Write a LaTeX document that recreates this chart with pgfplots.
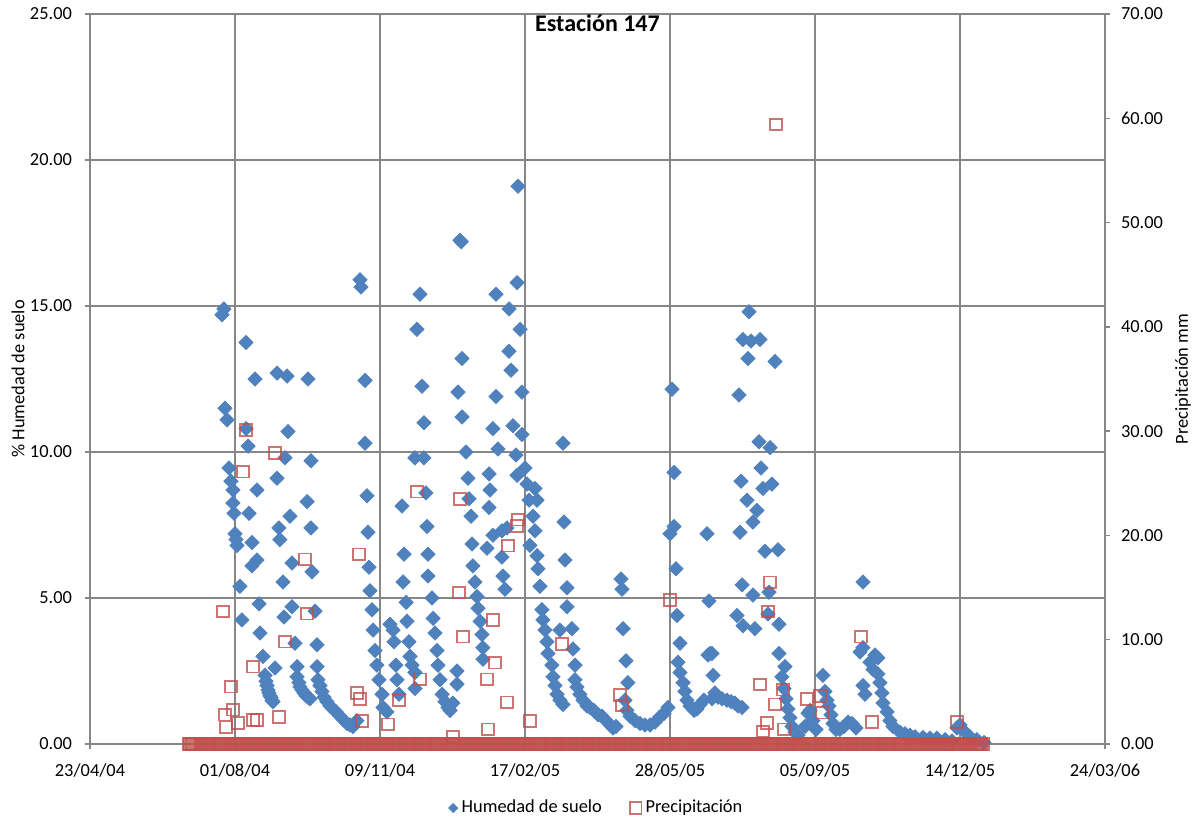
\documentclass[border=0pt]{standalone}
\usepackage{fontspec}
\setmainfont{Carlito}
\usepackage{pgfplots}
\usepackage{pgfplotstable}
\pgfplotsset{compat=1.18}
\definecolor{humblue}{RGB}{79,129,189}
\definecolor{prered}{RGB}{192,80,77}
\definecolor{gridgray}{RGB}{134,134,134}

% humedad de suelo (dias desde 23/04/04, %)
\pgfplotstableread{
x y
91.0 14.7
92.4 14.9
93.1 11.5
94.5 11.1
95.9 9.45
97.2 9.0
98.6 8.7
98.6 8.25
99.3 7.9
100.0 7.2
100.7 7.0
101.4 6.8
103.4 5.4
104.8 4.25
107.6 13.75
107.6 10.8
109.0 10.2
109.7 7.9
111.7 6.9
111.7 6.1
113.8 12.5
115.2 8.7
115.2 6.3
116.6 4.8
117.2 3.8
119.3 3.0
120.7 2.35
121.4 2.15
122.1 2.0
122.8 1.85
123.4 1.75
124.1 1.65
124.8 1.6
125.5 1.5
126.2 1.45
127.6 2.6
129.0 12.7
129.0 9.1
130.3 7.4
131.0 7.0
133.1 5.55
133.8 4.35
134.5 9.8
135.9 12.6
136.6 10.7
137.9 7.8
139.3 6.2
139.3 4.7
141.4 3.45
142.8 2.65
142.8 2.3
144.1 2.1
144.8 1.95
146.2 1.85
147.6 1.75
149.0 1.65
150.3 1.6
151.7 1.55
149.7 8.3
150.3 12.5
152.4 9.7
152.4 7.4
153.1 5.9
155.2 4.55
156.6 3.4
156.6 2.65
157.2 2.2
158.6 2.0
160.0 1.8
161.4 1.6
163.4 1.45
165.5 1.3
167.6 1.2
169.7 1.1
172.4 0.95
174.5 0.85
177.2 0.7
179.3 0.65
181.4 0.6
184.1 0.8
186.2 15.9
186.9 15.65
189.7 12.45
189.7 10.3
191.0 8.5
191.7 7.25
192.4 6.05
193.1 5.25
194.5 4.6
195.2 3.9
196.6 3.2
197.9 2.7
199.3 2.2
201.4 1.7
202.1 1.25
204.8 1.1
206.9 4.1
209.0 3.9
209.7 3.5
211.0 2.7
211.7 2.2
213.1 1.7
215.2 8.15
215.9 5.55
216.6 6.5
218.0 4.85
218.6 4.2
220.0 3.5
220.7 3.0
222.1 2.7
224.1 2.45
224.1 1.9
224.1 9.8
225.5 14.2
227.6 15.4
229.0 12.25
230.3 11.0
230.3 9.8
231.7 8.6
232.4 7.45
233.1 6.5
233.1 5.75
235.9 5.0
236.6 4.3
237.9 3.8
239.3 3.2
240.0 2.7
241.4 2.2
242.8 1.7
244.8 1.45
246.9 1.25
248.3 1.15
250.3 1.4
253.1 2.05
253.1 2.5
253.8 12.05
255.2 17.25
256.0 17.2
256.6 13.2
256.6 11.2
259.3 10.0
260.7 9.1
261.4 8.4
262.8 7.8
263.4 6.85
264.1 6.1
265.5 5.55
266.9 5.05
267.6 4.65
269.0 4.2
270.3 3.75
271.0 3.3
271.0 2.9
275.2 9.25
275.9 8.7
275.2 8.1
273.8 6.7
277.9 7.15
284.1 7.3
287.6 7.4
284.1 6.4
284.8 5.75
286.2 5.3
280.0 15.4
280.0 11.9
277.9 10.8
281.4 10.1
289.0 14.9
289.0 13.45
290.3 12.8
291.7 10.9
293.8 9.9
294.5 9.2
294.5 15.8
295.2 19.1
296.6 14.2
297.9 12.05
297.9 10.6
300.0 9.45
301.4 8.9
302.8 8.35
303.4 6.8
305.5 7.8
306.9 8.75
306.9 7.3
308.3 8.35
308.3 6.45
309.0 6.0
310.3 5.4
311.7 4.6
312.4 4.25
313.8 3.9
315.2 3.5
315.9 3.1
318.6 2.7
319.3 2.3
320.7 2.0
322.1 1.7
324.1 1.5
326.2 1.35
326.2 10.3
326.9 7.6
327.6 6.3
329.0 5.35
329.0 4.7
324.1 3.9
332.4 3.95
333.1 3.25
334.5 2.7
334.5 2.2
335.9 1.95
337.9 1.7
340.0 1.5
342.8 1.3
344.8 1.25
347.6 1.15
350.3 1.0
353.1 0.95
355.9 0.8
358.6 0.65
360.7 0.55
362.8 0.6
366.2 5.65
366.9 5.3
367.6 3.95
369.7 2.85
371.0 2.1
369.0 1.5
370.3 1.15
372.4 0.95
375.9 0.8
379.3 0.7
382.8 0.65
386.2 0.65
389.7 0.75
393.1 0.93
395.9 1.05
398.6 1.25
401.4 12.15
402.8 9.3
402.8 7.45
400.0 7.2
404.1 6.0
404.8 4.4
406.9 3.45
405.5 2.8
406.9 2.45
409.0 2.1
410.3 1.8
411.7 1.5
413.8 1.3
416.6 1.15
418.6 1.2
420.7 1.35
423.4 1.5
425.5 7.2
426.9 4.9
426.2 3.05
427.6 3.1
429.0 3.1
429.7 2.35
431.0 1.75
429.0 1.55
433.1 1.6
435.9 1.55
439.3 1.5
442.1 1.45
444.8 1.4
446.9 1.3
449.7 1.25
446.2 4.4
447.6 11.95
448.3 7.25
449.0 9.0
449.7 5.45
450.3 4.05
450.3 13.85
453.1 8.35
453.8 13.2
454.5 14.8
455.9 13.8
457.2 7.6
457.2 5.1
458.6 3.95
460.0 8.0
461.4 10.35
462.1 13.85
462.8 9.45
464.1 8.75
465.5 6.6
467.6 4.45
468.3 5.2
469.0 10.15
470.3 8.9
472.4 13.1
474.5 6.65
475.2 4.1
475.2 3.1
477.2 2.3
479.3 2.65
478.6 1.9
480.0 1.55
481.4 1.2
482.8 0.9
484.1 0.6
486.2 0.4
488.3 0.3
493.1 0.6
495.2 1.05
496.6 1.15
498.6 0.8
500.7 0.5
505.5 2.35
506.9 1.8
508.3 1.5
509.7 1.3
511.0 1.0
512.4 0.7
514.5 0.5
517.2 0.5
520.0 0.6
522.8 0.75
525.5 0.7
528.3 0.55
531.0 3.15
533.1 3.3
533.1 5.55
533.1 2.0
534.5 1.7
537.9 2.8
540.0 2.55
541.4 3.05
543.4 2.95
543.4 2.4
544.8 2.1
546.2 1.75
546.9 1.4
549.7 1.1
551.7 0.8
553.8 0.6
558.6 0.4
562.1 0.35
565.5 0.3
569.0 0.25
574.5 0.22
579.3 0.2
584.1 0.2
589.7 0.15
594.5 0.1
597.9 0.55
600.0 0.65
602.1 0.48
606.9 0.25
611.7 0.15
616.6 0.05
}\humedad

\pgfplotsset{
  base/.style={
    scale only axis, width=507.5pt, height=365pt,
    xmin=0, xmax=700,
    axis line style={gridgray, line width=0.7pt},
    tick style={gridgray, line width=0.7pt},
    tick align=outside, major tick length=2.5pt,
    /pgf/number format/assume math mode=true,
    tick label style={font=\fontsize{9.2}{11}\selectfont, black},
    label style={font=\fontsize{9.2}{11}\selectfont},
  }
}

\begin{document}
\begin{tikzpicture}[font=\fontsize{9.2}{11}\selectfont]
\useasboundingbox (-45pt,-39pt) rectangle (553pt,372pt);
\begin{axis}[base,
  ymin=0, ymax=25, ytick={0,5,...,25},
  xtick={0,100,...,700},
  xticklabels={23/04/04,01/08/04,09/11/04,17/02/05,28/05/05,05/09/05,14/12/05,24/03/06},
  xtick pos=left, ytick pos=left,
  grid=major, major grid style={gridgray, line width=0.7pt},
  y tick label style={/pgf/number format/.cd, fixed, fixed zerofill, precision=2, /tikz/.cd, xshift=-3pt},
  x tick label style={yshift=-4pt},
  ylabel={\% Humedad de suelo},
  ylabel style={at={(axis description cs:-0.0709,0.5)}, anchor=center},
]
\addplot[only marks, mark=square*, mark size=2.5pt,
  mark options={rotate=45, fill=humblue, draw=humblue}] table[x=x, y=y] {\humedad};
\node[font=\bfseries\fontsize{12}{14}\selectfont, anchor=base, inner sep=0pt]
  at (rel axis cs:0.5,1) [yshift=-9pt] {Estación 147};
\end{axis}
\begin{axis}[base,
  axis x line=none, axis y line*=right,
  ymin=0, ymax=70, ytick={0,10,...,70},
  y tick label style={/pgf/number format/.cd, fixed, fixed zerofill, precision=2, /tikz/.cd, xshift=2pt},
  ylabel={Precipitación mm},
  ylabel style={at={(axis description cs:1.0768,0.5)}, anchor=center},
  legend style={at={(axis description cs:0.5,-0.0877)}, anchor=center, draw=none,
    font=\fontsize{9.2}{11}\selectfont, legend columns=2,
    /tikz/every even column/.append style={column sep=12pt}},
]
\addlegendimage{only marks, mark=square*, mark size=1.6pt, mark options={rotate=45, fill=humblue, draw=humblue}}
\addlegendentry{Humedad de suelo}
\addplot[only marks, mark=square, mark size=2.9pt,
  mark options={draw=prered, line width=0.85pt, draw opacity=0.8}] coordinates {
(68,0)(70,0)(72,0)(74,0)(76,0)(78,0)(80,0)(82,0)(84,0)(86,0)(88,0)(90,0)(92,0)(94,0)(96,0)(98,0)(100,0)(102,0)(104,0)(106,0)
(108,0)(110,0)(112,0)(114,0)(116,0)(118,0)(120,0)(122,0)(124,0)(126,0)(128,0)(130,0)(132,0)(134,0)(136,0)(138,0)(140,0)(142,0)(144,0)(146,0)
(148,0)(150,0)(152,0)(154,0)(156,0)(158,0)(160,0)(162,0)(164,0)(166,0)(168,0)(170,0)(172,0)(174,0)(176,0)(178,0)(180,0)(182,0)(184,0)(186,0)
(188,0)(190,0)(192,0)(194,0)(196,0)(198,0)(200,0)(202,0)(204,0)(206,0)(208,0)(210,0)(212,0)(214,0)(216,0)(218,0)(220,0)(222,0)(224,0)(226,0)
(228,0)(230,0)(232,0)(234,0)(236,0)(238,0)(240,0)(242,0)(244,0)(246,0)(248,0)(250,0)(252,0)(254,0)(256,0)(258,0)(260,0)(262,0)(264,0)(266,0)
(268,0)(270,0)(272,0)(274,0)(276,0)(278,0)(280,0)(282,0)(284,0)(286,0)(288,0)(290,0)(292,0)(294,0)(296,0)(298,0)(300,0)(302,0)(304,0)(306,0)
(308,0)(310,0)(312,0)(314,0)(316,0)(318,0)(320,0)(322,0)(324,0)(326,0)(328,0)(330,0)(332,0)(334,0)(336,0)(338,0)(340,0)(342,0)(344,0)(346,0)
(348,0)(350,0)(352,0)(354,0)(356,0)(358,0)(360,0)(362,0)(364,0)(366,0)(368,0)(370,0)(372,0)(374,0)(376,0)(378,0)(380,0)(382,0)(384,0)(386,0)
(388,0)(390,0)(392,0)(394,0)(396,0)(398,0)(400,0)(402,0)(404,0)(406,0)(408,0)(410,0)(412,0)(414,0)(416,0)(418,0)(420,0)(422,0)(424,0)(426,0)
(428,0)(430,0)(432,0)(434,0)(436,0)(438,0)(440,0)(442,0)(444,0)(446,0)(448,0)(450,0)(452,0)(454,0)(456,0)(458,0)(460,0)(462,0)(464,0)(466,0)
(468,0)(470,0)(472,0)(474,0)(476,0)(478,0)(480,0)(482,0)(484,0)(486,0)(488,0)(490,0)(492,0)(494,0)(496,0)(498,0)(500,0)(502,0)(504,0)(506,0)
(508,0)(510,0)(512,0)(514,0)(516,0)(518,0)(520,0)(522,0)(524,0)(526,0)(528,0)(530,0)(532,0)(534,0)(536,0)(538,0)(540,0)(542,0)(544,0)(546,0)
(548,0)(550,0)(552,0)(554,0)(556,0)(558,0)(560,0)(562,0)(564,0)(566,0)(568,0)(570,0)(572,0)(574,0)(576,0)(578,0)(580,0)(582,0)(584,0)(586,0)
(588,0)(590,0)(592,0)(594,0)(596,0)(598,0)(600,0)(602,0)(604,0)(606,0)(608,0)(610,0)(612,0)(614,0)(616,0)
(69,0)(71,0)(73,0)(75,0)(77,0)(79,0)(81,0)(83,0)(85,0)(87,0)(89,0)(91,0)(93,0)(95,0)(97,0)(99,0)(101,0)(103,0)(105,0)(107,0)
(109,0)(111,0)(113,0)(115,0)(117,0)(119,0)(121,0)(123,0)(125,0)(127,0)(129,0)(131,0)(133,0)(135,0)(137,0)(139,0)(141,0)(143,0)(145,0)(147,0)
(149,0)(151,0)(153,0)(155,0)(157,0)(159,0)(161,0)(163,0)(165,0)(167,0)(169,0)(171,0)(173,0)(175,0)(177,0)(179,0)(181,0)(183,0)(185,0)(187,0)
(189,0)(191,0)(193,0)(195,0)(197,0)(199,0)(201,0)(203,0)(205,0)(207,0)(209,0)(211,0)(213,0)(215,0)(217,0)(219,0)(221,0)(223,0)(225,0)(227,0)
(229,0)(231,0)(233,0)(235,0)(237,0)(239,0)(241,0)(243,0)(245,0)(247,0)(249,0)(251,0)(253,0)(255,0)(257,0)(259,0)(261,0)(263,0)(265,0)(267,0)
(269,0)(271,0)(273,0)(275,0)(277,0)(279,0)(281,0)(283,0)(285,0)(287,0)(289,0)(291,0)(293,0)(295,0)(297,0)(299,0)(301,0)(303,0)(305,0)(307,0)
(309,0)(311,0)(313,0)(315,0)(317,0)(319,0)(321,0)(323,0)(325,0)(327,0)(329,0)(331,0)(333,0)(335,0)(337,0)(339,0)(341,0)(343,0)(345,0)(347,0)
(349,0)(351,0)(353,0)(355,0)(357,0)(359,0)(361,0)(363,0)(365,0)(367,0)(369,0)(371,0)(373,0)(375,0)(377,0)(379,0)(381,0)(383,0)(385,0)(387,0)
(389,0)(391,0)(393,0)(395,0)(397,0)(399,0)(401,0)(403,0)(405,0)(407,0)(409,0)(411,0)(413,0)(415,0)(417,0)(419,0)(421,0)(423,0)(425,0)(427,0)
(429,0)(431,0)(433,0)(435,0)(437,0)(439,0)(441,0)(443,0)(445,0)(447,0)(449,0)(451,0)(453,0)(455,0)(457,0)(459,0)(461,0)(463,0)(465,0)(467,0)
(469,0)(471,0)(473,0)(475,0)(477,0)(479,0)(481,0)(483,0)(485,0)(487,0)(489,0)(491,0)(493,0)(495,0)(497,0)(499,0)(501,0)(503,0)(505,0)(507,0)
(509,0)(511,0)(513,0)(515,0)(517,0)(519,0)(521,0)(523,0)(525,0)(527,0)(529,0)(531,0)(533,0)(535,0)(537,0)(539,0)(541,0)(543,0)(545,0)(547,0)
(549,0)(551,0)(553,0)(555,0)(557,0)(559,0)(561,0)(563,0)(565,0)(567,0)(569,0)(571,0)(573,0)(575,0)(577,0)(579,0)(581,0)(583,0)(585,0)(587,0)
(589,0)(591,0)(593,0)(595,0)(597,0)(599,0)(601,0)(603,0)(605,0)(607,0)(609,0)(611,0)(613,0)(615,0)
(91.7,12.7)(93.1,2.8)(93.8,1.6)(97.2,5.5)(98.6,3.3)(102.1,2.0)(105.5,26.1)(107.6,30.1)
(112.4,7.4)(112.4,2.3)(115.2,2.3)(127.6,27.9)(130.3,2.6)(134.5,9.8)(148.3,17.7)(149.7,12.5)
(184.1,4.9)(185.5,18.2)(186.2,4.3)(187.6,2.2)(205.5,1.9)(213.1,4.2)(225.5,24.2)(227.6,6.2)
(250.3,0.7)(254.5,14.5)(255.2,23.5)(257.2,10.3)(273.8,6.2)(274.5,1.4)(277.9,11.9)(279.3,7.8)
(287.6,4.0)(288.3,19.0)(294.5,20.9)(295.2,21.5)(303.4,2.2)(325.5,9.6)(365.5,4.7)(366.9,3.7)
(400.0,13.8)(462.1,5.7)(464.1,1.2)(466.9,2.0)(467.6,12.7)(469.0,15.5)(472.4,3.8)(473.1,59.4)
(477.9,5.2)(478.6,1.4)(494.5,4.3)(503.4,4.6)(504.8,3.0)(531.7,10.3)(539.3,2.1)(597.9,2.1)
};
\addlegendentry{Precipitación}
\end{axis}
\end{tikzpicture}
\end{document}
